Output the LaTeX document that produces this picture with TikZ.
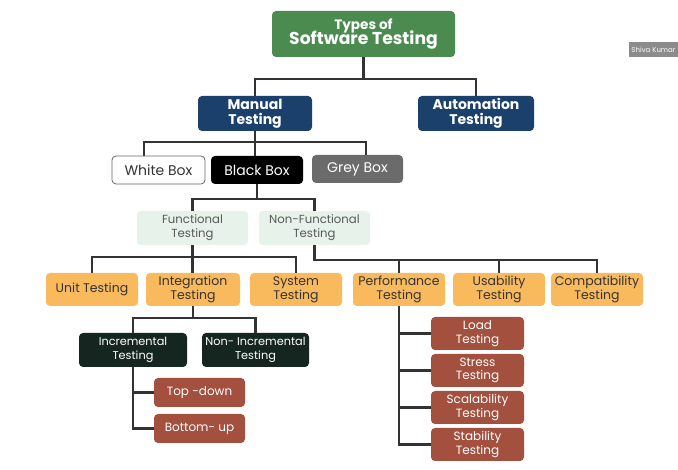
\documentclass[tikz,border=0pt]{standalone}
\usepackage{fontspec}
\setmainfont{Poppins}
\definecolor{titlegreen}{HTML}{4B8B4F}
\definecolor{mainblue}{HTML}{1B406B}
\definecolor{boxgrey}{HTML}{6B6B6B}
\definecolor{palegreen}{HTML}{E6F2EA}
\definecolor{orangebox}{HTML}{F8BA5C}
\definecolor{darkteal}{HTML}{14261F}
\definecolor{brick}{HTML}{A3503F}
\definecolor{wire}{HTML}{333333}
\tikzset{
    tbox/.style 2 args={rounded corners=4pt, align=center, inner sep=0pt,
            minimum width=#1, minimum height=#2,
            font=\fontsize{12}{14}\selectfont},
    topbox/.style={fill=mainblue, text=white, font=\fontsize{14}{14.5}\selectfont\bfseries},
    colorbox/.style={font=\fontsize{14}{15}\selectfont},
    levelbox/.style={fill=orangebox, text=wire, font=\fontsize{12.5}{14}\selectfont},
    typebox/.style={fill=palegreen, text=black!65, font=\fontsize{11.7}{14}\selectfont},
    subbox/.style={fill=brick, text=white, font=\fontsize{12}{13.5}\selectfont},
    incrbox/.style={fill=darkteal, text=white, font=\fontsize{11.3}{13.5}\selectfont},
    wires/.style={draw=wire, line width=2.3pt},
}
\begin{document}
\begin{tikzpicture}[x=1pt, y=-1pt]
        \useasboundingbox (0,0) rectangle (678,470);
        %draw title and first level
        \node[tbox={183}{46}, fill=titlegreen, text=white] (title) at (363.5,34)
            {{\fontsize{13.6}{14}\selectfont\bfseries Types of}\\[-3pt]{\fontsize{17.2}{19}\selectfont\bfseries Software Testing}};
        \node[tbox={114}{35}, topbox] (manual) at (255,113.5) {Manual\\Testing};
        \node[tbox={116}{35}, topbox] (auto) at (476,113.5) {Automation\\Testing};
        %draw white, black and grey box
        \node[tbox={93}{28}, colorbox, fill=white, draw=black!60, line width=0.8pt, text=wire] (white) at (158.5,170) {White Box};
        \node[tbox={92}{28}, colorbox, fill=black, text=white] (black) at (257,170) {Black Box};
        \node[tbox={91}{28}, colorbox, fill=boxgrey, text=white] (grey) at (357.5,169) {Grey Box};
        %draw functional and non-functional
        \node[tbox={111}{34}, typebox] (func) at (192.5,228) {Functional\\Testing};
        \node[tbox={111}{34}, typebox] (nonfunc) at (314.5,228) {Non-Functional\\Testing};
        %draw orange row
        \node[tbox={92}{33}, levelbox] (unit) at (92,289.5) {Unit Testing};
        \node[tbox={94}{33}, levelbox] (integ) at (193,289.5) {Integration\\Testing};
        \node[tbox={92}{33}, levelbox] (system) at (296,289.5) {System\\Testing};
        \node[tbox={92}{33}, levelbox] (perf) at (399,289.5) {Performance\\Testing};
        \node[tbox={92}{33}, levelbox] (usab) at (499,289.5) {Usability\\Testing};
        \node[tbox={92}{33}, levelbox] (compat) at (597,289.5) {Compatibility\\Testing};
        %draw incremental branch
        \node[tbox={108}{34}, incrbox] (incr) at (133,350) {Incremental\\Testing};
        \node[tbox={107}{34}, incrbox] (nonincr) at (255.5,350) {Non- Incremental\\Testing};
        \node[tbox={91}{29}, subbox] (topdown) at (199.5,392.5) {Top -down};
        \node[tbox={91}{29}, subbox] (bottomup) at (199.5,428.5) {Bottom- up};
        %draw performance branch
        \node[tbox={93}{33}, subbox] (load) at (477.5,333.5) {Load\\Testing};
        \node[tbox={93}{33}, subbox] (stress) at (477.5,370.5) {Stress\\Testing};
        \node[tbox={93}{33}, subbox] (scal) at (477.5,407.5) {Scalability\\Testing};
        \node[tbox={93}{33}, subbox] (stab) at (477.5,444.5) {Stability\\Testing};
        %draw name tag
        \node[fill=black!45, text=white, inner sep=1pt, minimum width=50, minimum height=15,
            font=\fontsize{7}{8}\selectfont] (tag) at (653.5,49.5) {Shiva Kumar};
        %connect the boxes
        \draw[wires] (title.south) -- ++(0,22) -| (manual.north);
        \draw[wires] (title.south) ++(0,22) -| (auto.north);
        \draw[wires] (manual.south) -- ++(0,11) -| ([xshift=-14.5]white.north);
        \draw[wires] (manual.south) ++(0,11) -| ([xshift=8.5]grey.north);
        \draw[wires] (manual.south) -- (manual.south |- black.north);
        \draw[wires] (black.south) -- ++(0,15) -| (func.north);
        \draw[wires] (black.south) ++(0,15) -| (nonfunc.north);
        \draw[wires] (func.south) -- ++(0,12) -| (unit.north);
        \draw[wires] (func.south) ++(0,12) -| (system.north);
        \draw[wires] (func.south) -- (func.south |- integ.north);
        \draw[wires] (nonfunc.south) -- ++(0,15) -| (perf.north);
        \draw[wires] (nonfunc.south) ++(0,15) -| (usab.north);
        \draw[wires] (nonfunc.south) ++(0,15) -| (compat.north);
        \draw[wires] (integ.south) -- ++(0,12) -| (incr.north);
        \draw[wires] (integ.south) ++(0,12) -| (nonincr.north);
        \draw[wires] (incr.south) |- (topdown.west);
        \draw[wires] (incr.south) |- (bottomup.west);
        \draw[wires] (perf.south) |- (load.west);
        \draw[wires] (perf.south) |- (stress.west);
        \draw[wires] (perf.south) |- (scal.west);
        \draw[wires] (perf.south) |- (stab.west);
    \end{tikzpicture}
\end{document}
